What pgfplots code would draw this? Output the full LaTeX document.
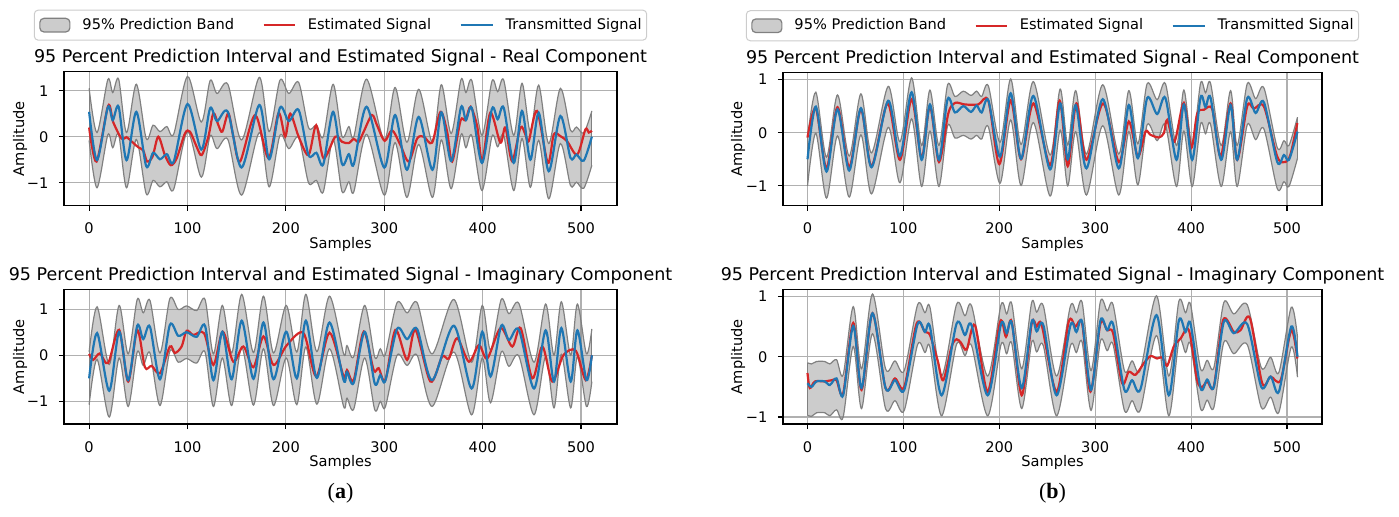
\documentclass[border=0pt]{standalone}
\usepackage{fontspec}
\setmainfont{DejaVu Sans}
\newfontfamily\capfont{Liberation Serif}
\usepackage{pgfplots}
\usepackage{pgfplotstable}
\pgfplotsset{compat=1.18}
\usepgfplotslibrary{fillbetween}

\definecolor{tabred}{HTML}{D62728}
\definecolor{tabblue}{HTML}{1F77B4}
\definecolor{bandedge}{HTML}{808080}
\definecolor{gridgray}{HTML}{B0B0B0}
\newcommand\tickfont{\fontsize{7.3}{8.8}\selectfont}
\newcommand\titlefont{\fontsize{8.75}{10.5}\selectfont}

% (a) real: transmitted signal b, band upper u, band lower l
\pgfplotstableread{
s b u l
0 0.54 1.05 -0.08
8 -0.51 0.09 -1.11
19 0.64 1.24 0.04
24 0.36 0.96 -0.24
30 0.65 1.25 0.05
38 -0.51 0.09 -1.11
48 0.54 1.14 -0.06
58 -0.64 -0.04 -1.24
65 -0.35 0.25 -0.95
72 -0.49 0.11 -1.09
79 -0.38 0.22 -0.98
86 -0.54 0.06 -1.14
100 0.71 1.31 0.11
114 -0.28 0.32 -0.88
123 0.62 1.22 0.02
130 0.34 0.94 -0.26
141 0.54 1.14 -0.06
155 -0.67 -0.07 -1.27
173 0.69 1.29 0.09
183 -0.49 0.11 -1.09
194 0.63 1.23 0.03
203 0.34 0.94 -0.26
213 0.58 1.18 -0.02
223 -0.40 0.20 -1.00
231 -0.35 0.25 -0.95
238 -0.60 0.00 -1.20
248 0.54 1.14 -0.06
257 -0.59 0.01 -1.19
264 -0.38 0.22 -0.98
269 -0.60 0.00 -1.20
282 0.65 1.25 0.05
300 -0.67 -0.07 -1.27
311 0.47 1.07 -0.13
323 -0.72 -0.12 -1.32
335 0.43 1.03 -0.17
349 -0.72 -0.12 -1.32
358 0.53 1.13 -0.07
368 -0.53 0.07 -1.13
378 0.64 1.24 0.04
383 0.36 0.96 -0.24
389 0.62 1.22 0.02
399.3 -0.57 0.03 -1.17
409.5 0.61 1.21 0.01
415.3 0.38 0.98 -0.22
421.4 0.63 1.23 0.03
431.6 -0.57 0.03 -1.17
440 0.56 1.16 -0.04
448.5 -0.50 0.10 -1.10
457 0.52 1.12 -0.08
467.2 -0.75 -0.15 -1.35
479 0.45 1.05 -0.15
489.3 -0.46 0.14 -1.06
495.4 -0.39 0.21 -0.99
502.8 -0.52 0.08 -1.12
511 0.00 0.56 -0.62
}\Aoneband
\pgfplotstableread{
s r
0 0.20
7.5 -0.54
19.3 0.67
24.4 0.32
32.9 -0.04
38 -0.01
43 -0.10
50 -0.23
55 -0.30
59 -0.54
64.5 -0.43
70.3 0.00
77 -0.40
83 -0.62
89 -0.47
97.4 0.07
102.5 0.11
109.3 -0.22
114.4 -0.40
121.2 0.00
126.3 0.51
131.4 0.25
135.4 0.11
141.5 0.51
146.6 0.00
153.4 -0.54
168.7 0.47
182.3 -0.47
192.5 0.51
199.3 0.00
204.4 0.50
213 0.00
223 -0.40
230.8 0.25
238.3 -0.47
250.2 0.00
257 -0.11
263.8 -0.14
268.9 -0.05
274 -0.11
279.1 0.11
287.5 0.47
292.6 0.25
300.4 -0.09
307.9 0.14
316.4 -0.18
324.9 -0.54
333.4 -0.04
340.2 0.00
348.6 -0.13
357.1 0.54
363.9 0.11
369 -0.54
377.5 0.35
382.6 0.36
387.7 0.65
394.5 0.22
399.6 -0.54
407.8 0.52
418 -0.13
423.1 0.20
429.9 -0.53
438.4 0.20
443.4 0.05
446.8 -0.10
455.3 0.56
466.2 -0.57
472.3 0.05
479.1 0.01
485.9 -0.10
496.1 -0.39
504.5 0.16
507.9 0.09
511 0.13
}\Aonered

% (a) imaginary
\pgfplotstableread{
s b u l
0 -0.50 0.07 -1.07
8.1 0.48 1.05 -0.09
20.4 -0.77 -0.20 -1.34
30.5 0.51 1.08 -0.06
39.7 -0.54 0.03 -1.11
48.9 0.64 1.21 0.07
55 0.35 0.92 -0.22
61.8 0.62 1.19 0.05
72 -0.52 0.05 -1.09
82.1 0.66 1.23 0.09
90.6 0.42 0.99 -0.15
99.1 0.50 1.07 -0.07
109.3 0.40 0.97 -0.17
117.8 0.64 1.21 0.07
126.3 -0.54 0.03 -1.11
135.4 0.51 1.08 -0.06
144.9 -0.52 0.05 -1.09
155.1 0.75 1.32 0.18
167 -0.51 0.06 -1.08
177.2 0.71 1.28 0.14
187.4 -0.52 0.05 -1.09
200.3 0.51 1.08 -0.06
211.1 -0.50 0.07 -1.07
220.3 0.75 1.32 0.18
231.5 -0.49 0.08 -1.06
244.4 0.71 1.28 0.14
258.7 -0.54 0.03 -1.11
262.1 -0.36 0.21 -0.93
268.9 -0.60 -0.03 -1.17
280.1 0.51 1.08 -0.06
290.3 -0.61 -0.04 -1.18
296 -0.43 0.14 -1.00
301.1 -0.55 0.02 -1.12
313 0.57 1.14 0.00
323.2 0.35 0.92 -0.22
333.4 0.57 1.14 0.00
348.6 -0.54 0.03 -1.11
370.7 0.64 1.21 0.07
388.7 -0.72 -0.15 -1.29
399.6 0.51 1.08 -0.06
408 -0.46 0.11 -1.03
418.9 0.64 1.21 0.07
426.7 0.33 0.90 -0.24
436.9 0.55 1.12 -0.02
452.2 -0.72 -0.15 -1.29
464 0.54 1.11 -0.03
472.5 -0.57 0.00 -1.14
480 0.59 1.16 0.02
489.5 -0.57 0.00 -1.14
496.3 0.54 1.11 -0.03
505.5 -0.54 0.03 -1.11
511 0.00 0.57 -0.57
}\Atwoband
\pgfplotstableread{
s r
0 0.03
4.1 -0.10
10.9 0.04
19.3 -0.17
30.5 0.55
39.7 -0.57
48.9 0.55
56.7 -0.26
63.5 -0.23
72 -0.39
82.1 0.19
87.2 0.05
94 0.19
99.1 0.53
105.9 0.44
116.8 0.48
126.3 -0.21
135.8 0.51
146.6 -0.14
156.8 0.19
167 -0.26
177.2 0.41
187.4 -0.21
201 0.22
217.9 0.48
230.8 -0.46
244.4 0.49
258.7 -0.46
262.1 -0.32
268.9 -0.54
279.1 0.51
289.2 -0.32
294.3 -0.28
301.1 -0.54
311.3 0.55
323.2 -0.10
331.7 0.55
346.9 -0.57
358.8 -0.03
365.6 -0.07
374.1 0.37
386 -0.14
396.2 0.22
404.7 -0.07
418.2 0.59
430.1 0.19
438.6 0.59
450.5 -0.50
460.7 0.19
470.8 -0.57
482 0.00
494.6 0.10
504.8 -0.54
511 0.00
}\Atwored

% (b) real
\pgfplotstableread{
s b u l
0 -0.50 -0.10 -1.00
8.7 0.49 0.76 -0.01
19.8 -0.73 -0.46 -1.23
31.3 0.44 0.71 -0.06
43.5 -0.71 -0.44 -1.21
55.7 0.46 0.73 -0.04
66.8 -0.65 -0.38 -1.15
84.2 0.60 0.87 0.10
96.4 -0.44 -0.17 -0.94
108.6 0.76 1.03 0.26
119 -0.51 -0.24 -1.01
127.7 0.53 0.80 0.03
137.1 -0.51 -0.24 -1.01
146.1 0.63 0.90 0.13
153.8 0.38 0.68 -0.10
162.5 0.50 0.78 -0.05
170.5 0.39 0.70 -0.12
176.4 0.51 0.78 -0.05
181.6 0.38 0.68 -0.12
188.6 0.61 0.88 0.11
200.8 -0.45 -0.18 -0.95
211.9 0.74 1.01 0.24
222.7 -0.49 -0.22 -0.99
235.6 0.69 0.96 0.19
253 -0.69 -0.42 -1.19
263.5 0.55 0.82 0.05
271.4 -0.50 -0.23 -1.00
279.7 0.52 0.79 0.02
290.9 -0.67 -0.40 -1.17
307.9 0.63 0.90 0.13
324.6 -0.67 -0.40 -1.17
335.1 0.52 0.79 0.02
344.5 -0.48 -0.21 -0.98
354.2 0.65 0.92 0.15
364.6 0.35 0.62 -0.15
373.3 0.65 0.92 0.15
384.8 -0.51 -0.24 -1.01
392.5 0.53 0.80 0.03
401.2 -0.51 -0.24 -1.01
409.9 0.66 0.93 0.16
415.1 0.48 0.75 -0.02
420.3 0.66 0.93 0.16
431.4 -0.51 -0.24 -1.01
441.2 0.52 0.79 0.02
448.1 -0.51 -0.24 -1.01
458.6 0.65 0.92 0.15
467.3 0.37 0.64 -0.13
476 0.57 0.84 0.07
489.9 -0.55 -0.28 -1.05
496.9 -0.42 -0.15 -0.92
502.1 -0.51 -0.24 -1.01
511 0.02 0.29 -0.48
}\Boneband
\pgfplotstableread{
s r
0 -0.09
8.7 0.46
19.8 -0.67
31.3 0.48
43.5 -0.65
55.7 0.44
66.8 -0.63
83.5 0.55
96.4 -0.51
108.6 0.63
119 -0.48
127.7 0.50
137.1 -0.55
146.8 0.36
153.8 0.56
164.2 0.53
178.1 0.53
188.6 0.60
200.1 -0.59
211.9 0.61
222.7 -0.50
235.6 0.55
253 -0.61
263 0.60
271.4 -0.63
280.4 0.55
290.9 -0.51
308.3 0.55
324.6 -0.55
335.1 0.21
344.5 -0.45
352.5 0.02
357.7 -0.04
366.4 -0.09
371.6 -0.01
375.1 0.24
382.7 -0.17
392.5 0.56
400.1 -0.29
406.4 0.36
413.4 0.43
422.1 0.44
430.8 -0.45
441.2 0.55
448.1 -0.51
458.6 0.50
465.5 0.45
476 0.49
489.9 -0.45
498.6 -0.55
503.8 -0.40
510.8 0.18
}\Bonered

% (b) imaginary
\pgfplotstableread{
s b u l
0 -0.44 -0.10 -0.97
4.2 -0.50 -0.12 -0.99
9.4 -0.41 -0.08 -0.93
18.1 -0.41 -0.08 -0.93
23.3 -0.47 -0.12 -0.98
30.3 -0.36 -0.05 -0.88
37.2 -0.64 -0.30 -1.00
47.7 0.51 0.83 0.17
56.4 -0.52 -0.20 -0.86
67.8 0.72 1.04 0.38
81.4 -0.52 -0.20 -0.86
91.2 -0.39 -0.07 -0.73
100.9 -0.55 -0.23 -0.89
114.8 0.54 0.86 0.20
122.5 0.41 0.73 0.07
127.7 0.50 0.82 0.16
139.9 -0.64 -0.32 -0.98
155.5 0.55 0.87 0.21
164.2 0.36 0.68 0.02
171.2 0.52 0.84 0.18
187.9 -0.64 -0.32 -0.98
201.8 0.54 0.86 0.20
207.7 0.39 0.71 0.05
213 0.56 0.88 0.22
223.4 -0.52 -0.20 -0.86
233.8 0.58 0.90 0.24
239 0.42 0.74 0.08
246 0.52 0.84 0.18
259.8 -0.64 -0.32 -0.98
274.2 0.52 0.84 0.18
280.4 0.41 0.73 0.07
286.4 0.58 0.90 0.24
295.7 -0.55 -0.23 -0.89
305.5 0.60 0.92 0.26
312.5 0.44 0.76 0.10
318.7 0.54 0.86 0.20
330.5 -0.55 -0.23 -0.89
338.5 -0.39 -0.07 -0.73
347.2 -0.54 -0.22 -0.88
364 0.69 1.01 0.35
376.8 -0.64 -0.32 -0.98
387.3 0.60 0.92 0.26
394.2 0.41 0.73 0.07
399.4 0.55 0.87 0.21
409.9 -0.52 -0.20 -0.86
416.8 -0.38 -0.06 -0.72
423.8 -0.50 -0.18 -0.84
434.2 0.58 0.90 0.24
444.6 0.39 0.71 0.05
458.6 0.54 0.86 0.20
473.2 -0.50 -0.18 -0.84
483 -0.33 -0.01 -0.67
491.6 -0.58 -0.26 -0.92
504.5 0.50 0.82 0.16
511 0.00 0.32 -0.34
}\Btwoband
\pgfplotstableread{
s r
0 -0.27
2.4 -0.52
7.7 -0.41
18.1 -0.41
25.1 -0.39
30.3 -0.39
37.2 -0.61
47.7 0.56
56.4 -0.55
67.8 0.72
81.4 -0.52
91.2 -0.36
100.9 -0.50
113.8 0.55
122.5 0.41
127.7 0.36
135.7 -0.06
141.6 -0.39
150.3 0.17
155.5 0.29
160.1 0.23
166 0.12
174.7 0.52
187.9 -0.58
200.8 0.58
207 0.33
213 0.58
223.4 -0.64
233.8 0.55
239 0.50
244.3 0.52
259.8 -0.58
272.4 0.58
279.4 0.50
286.4 0.55
295.1 -0.58
305.5 0.55
312.5 0.44
318.7 0.39
328.1 -0.44
335 -0.25
342 -0.30
350.7 -0.11
357.7 0.01
364.6 -0.03
369.9 -0.01
375.1 -0.15
382 0.17
389 0.30
397.7 0.44
406.4 -0.39
411.6 -0.50
416.8 -0.41
423.8 -0.49
433.5 0.61
444.7 0.41
451.6 0.44
461.4 0.64
474.2 -0.44
483 -0.33
493.4 -0.39
504.5 0.44
510.8 -0.03
}\Btwored

\pgfplotsset{
  panel/.style={
    scale only axis, anchor=south west,
    xmin=-25.55, xmax=536.55,
    xtick={0,100,200,300,400,500},
    xticklabels={0,100,200,300,400,500},
    ytick={-1,0,1}, yticklabels={−1,0,1},
    grid=major, major grid style={color=gridgray, line width=0.55pt},
    axis line style={line width=0.55pt},
    tick align=outside, major tick length=2.55pt,
    tick style={black, line width=0.55pt},
    xtick pos=left, ytick pos=left,
    tick label style={font=\tickfont},
    xticklabel style={anchor=base, inner sep=0pt, yshift=-11.6pt},
    yticklabel style={anchor=east, inner sep=0pt, xshift=-5pt},
    xlabel=Samples, ylabel=Amplitude,
    label style={font=\tickfont},
    xlabel style={at={(axis description cs:0.5,0)}, anchor=base, yshift=-21.5pt},
    title style={at={(axis description cs:0.5,1)}, anchor=base, yshift=-1.5pt, font=\titlefont},
  },
  toplegend/.style={
    legend style={at={(axis description cs:0.5,1)}, anchor=south, yshift=15.5pt,
      legend columns=3, draw=black!20, rounded corners=2pt, line width=0.5pt,
      fill=white, font=\tickfont, inner xsep=2.5pt, inner ysep=1.2pt,
      nodes={inner xsep=0pt, inner ysep=2.8pt},
      /tikz/every odd column/.style={column sep=6pt},
      /tikz/every even column/.style={column sep=14.2pt}},
    legend cell align=left,
  },
}

\begin{document}
\begin{tikzpicture}

% ---------- (a) real ----------
\begin{axis}[panel, toplegend, at={(32pt,-102.85pt)}, width=276.5pt, height=67pt,
  ymin=-1.5, ymax=1.413,
  ylabel style={at={(axis description cs:-0.0796,0.5)}, anchor=center},
  title={95 Percent Prediction Interval and Estimated Signal - Real Component}]
\addlegendimage{legend image code/.code={\draw[fill=gray, fill opacity=0.4, draw=bandedge, line width=0.6pt] (0pt,-3.4pt) rectangle (15pt,3.4pt);}}
\addlegendentry{95\% Prediction Band}
\addlegendimage{legend image code/.code={\draw[tabred, line width=1.1pt] (0pt,0pt) -- (15.5pt,0pt);}}
\addlegendentry{Estimated Signal}
\addlegendimage{legend image code/.code={\draw[tabblue, line width=1.1pt] (0pt,0pt) -- (16pt,0pt);}}
\addlegendentry{Transmitted Signal}
\addplot[name path=UA1, bandedge, line width=0.6pt, smooth, forget plot] table[x=s, y=u]{\Aoneband};
\addplot[name path=LA1, bandedge, line width=0.6pt, smooth, forget plot] table[x=s, y=l]{\Aoneband};
\addplot[fill=gray, fill opacity=0.4, draw=none, forget plot] fill between[of=UA1 and LA1];
\addplot[bandedge, line width=0.6pt, forget plot] coordinates {(0,1.05) (0,-0.08)};
\addplot[bandedge, line width=0.6pt, forget plot] coordinates {(511,0.56) (511,-0.62)};
\addplot[tabred, line width=1.1pt, smooth, forget plot] table[x=s, y=r]{\Aonered};
\addplot[tabblue, line width=1.1pt, smooth, forget plot] table[x=s, y=b]{\Aoneband};
\end{axis}

% ---------- (a) imaginary ----------
\begin{axis}[panel, at={(32pt,-212pt)}, width=276.5pt, height=67.35pt,
  ymin=-1.49, ymax=1.43,
  ylabel style={at={(axis description cs:-0.0796,0.5)}, anchor=center},
  title={95 Percent Prediction Interval and Estimated Signal - Imaginary Component}]
\addplot[name path=UA2, bandedge, line width=0.6pt, smooth] table[x=s, y=u]{\Atwoband};
\addplot[name path=LA2, bandedge, line width=0.6pt, smooth] table[x=s, y=l]{\Atwoband};
\addplot[fill=gray, fill opacity=0.4, draw=none] fill between[of=UA2 and LA2];
\addplot[bandedge, line width=0.6pt] coordinates {(0,0.07) (0,-1.07)};
\addplot[bandedge, line width=0.6pt] coordinates {(511,0.57) (511,-0.57)};
\addplot[tabred, line width=1.1pt, smooth] table[x=s, y=r]{\Atwored};
\addplot[tabblue, line width=1.1pt, smooth] table[x=s, y=b]{\Atwoband};
\end{axis}

% ---------- (b) real ----------
\begin{axis}[panel, toplegend, at={(391.5pt,-102.85pt)}, width=269.5pt, height=66.7pt,
  ymin=-1.372, ymax=1.135,
  ylabel style={at={(axis description cs:-0.0835,0.5)}, anchor=center},
  title={95 Percent Prediction Interval and Estimated Signal - Real Component}]
\addlegendimage{legend image code/.code={\draw[fill=gray, fill opacity=0.4, draw=bandedge, line width=0.6pt] (0pt,-3.4pt) rectangle (15pt,3.4pt);}}
\addlegendentry{95\% Prediction Band}
\addlegendimage{legend image code/.code={\draw[tabred, line width=1.1pt] (0pt,0pt) -- (15.5pt,0pt);}}
\addlegendentry{Estimated Signal}
\addlegendimage{legend image code/.code={\draw[tabblue, line width=1.1pt] (0pt,0pt) -- (16pt,0pt);}}
\addlegendentry{Transmitted Signal}
\addplot[name path=UB1, bandedge, line width=0.6pt, smooth, forget plot] table[x=s, y=u]{\Boneband};
\addplot[name path=LB1, bandedge, line width=0.6pt, smooth, forget plot] table[x=s, y=l]{\Boneband};
\addplot[fill=gray, fill opacity=0.4, draw=none, forget plot] fill between[of=UB1 and LB1];
\addplot[bandedge, line width=0.6pt, forget plot] coordinates {(0,-0.10) (0,-1.00)};
\addplot[bandedge, line width=0.6pt, forget plot] coordinates {(511,0.29) (511,-0.48)};
\addplot[tabred, line width=1.1pt, smooth, forget plot] table[x=s, y=r]{\Bonered};
\addplot[tabblue, line width=1.1pt, smooth, forget plot] table[x=s, y=b]{\Boneband};
\end{axis}

% ---------- (b) imaginary ----------
\begin{axis}[panel, at={(391.5pt,-212pt)}, width=269.5pt, height=67.35pt,
  ymin=-1.116, ymax=1.118,
  ylabel style={at={(axis description cs:-0.0835,0.5)}, anchor=center},
  title={95 Percent Prediction Interval and Estimated Signal - Imaginary Component}]
\addplot[name path=UB2, bandedge, line width=0.6pt, smooth] table[x=s, y=u]{\Btwoband};
\addplot[name path=LB2, bandedge, line width=0.6pt, smooth] table[x=s, y=l]{\Btwoband};
\addplot[fill=gray, fill opacity=0.4, draw=none] fill between[of=UB2 and LB2];
\addplot[bandedge, line width=0.6pt] coordinates {(0,-0.10) (0,-0.97)};
\addplot[bandedge, line width=0.6pt] coordinates {(511,0.32) (511,-0.34)};
\addplot[tabred, line width=1.1pt, smooth] table[x=s, y=r]{\Btwored};
\addplot[tabblue, line width=1.1pt, smooth] table[x=s, y=b]{\Btwoband};
\end{axis}

\node[font=\capfont\fontsize{11}{13}\selectfont] at (170.25pt,-246.5pt) {(\textbf{a})};
\node[font=\capfont\fontsize{11}{13}\selectfont] at (526.25pt,-246.5pt) {(\textbf{b})};

\pgfresetboundingbox
\path[use as bounding box] (0,0) rectangle (699.5pt,-258.5pt);
\end{tikzpicture}
\end{document}
